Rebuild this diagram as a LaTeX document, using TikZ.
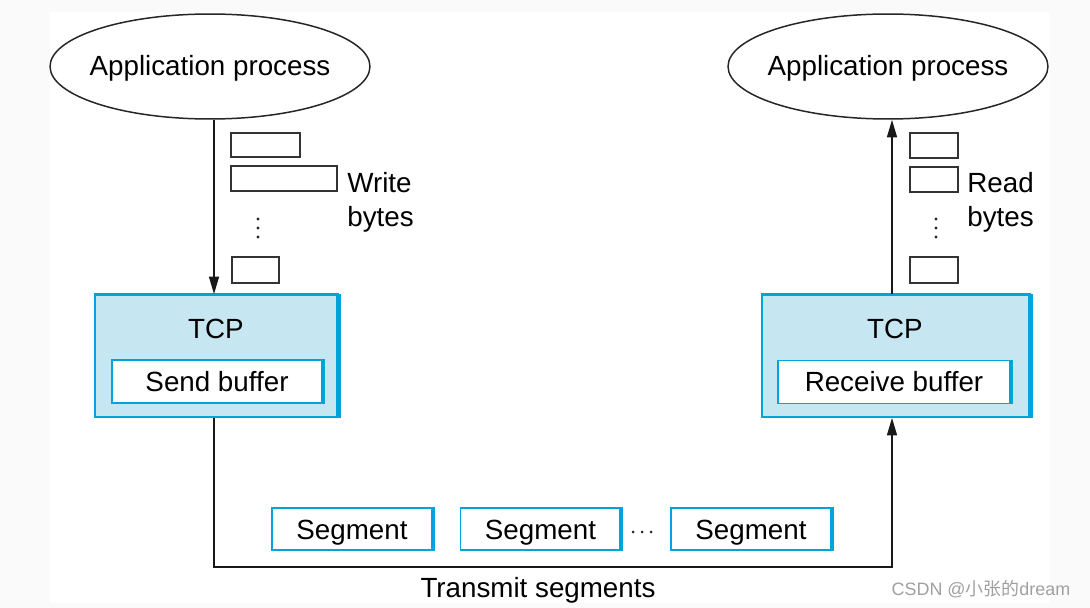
\documentclass[tikz,border=0pt]{standalone}
\usepackage{fontspec}
\setmainfont{Liberation Sans}
\newfontfamily\cjkfont{Noto Sans CJK SC}
\usetikzlibrary{shapes.geometric,arrows.meta}
\definecolor{tcpblue}{RGB}{0,163,218}
\definecolor{tcpfill}{RGB}{198,230,241}
\definecolor{bggray}{RGB}{250,250,250}
\definecolor{wmgray}{RGB}{160,160,160}
\newcommand{\atbase}[2]{\raisebox{-#1}[0pt][0pt]{#2}}
\begin{document}
\begin{tikzpicture}[x=0.02cm,y=-0.02cm,
  every node/.style={font=\fontsize{15.8}{19}\selectfont},
  app/.style={ellipse, draw=black!85, line width=0.85pt, minimum width=6.4cm, minimum height=2.1cm, inner sep=0pt},
  tcpbox/.style={draw=tcpblue, fill=tcpfill, line width=0.9pt, minimum height=2.44cm, inner sep=0pt},
  bufbox/.style={draw=tcpblue, fill=white, line width=1pt, minimum height=0.86cm, inner sep=0pt},
  segbox/.style={draw=tcpblue, fill=white, line width=1.1pt, minimum width=3.2cm, minimum height=0.84cm, inner sep=0pt},
  bytebox/.style={draw=black!80, line width=0.8pt, inner sep=0pt},
  thickedge/.style={draw=tcpblue, line width=2.6pt},
  topedge/.style={draw=tcpblue, line width=1.8pt},
  conn/.style={draw=black!90, line width=1.1pt},
  arr/.style={conn, -{Triangle[length=10pt,width=5.6pt]}},
  lbl/.style={anchor=base west, inner sep=0pt},
  dotmark/.style={fill=black!85},
]
\fill[bggray] (0,0) rectangle (1090,608);
\fill[white] (50,12) rectangle (1050,603);
\useasboundingbox (0,0) rectangle (1090,608);

% ellipses
\node[app] (appL) at (210,66.5) {\makebox[0pt]{\atbase{5.4pt}{Application process}}};
\node[app] (appR) at (888,66.5) {\makebox[0pt]{\atbase{5.4pt}{Application process}}};

% TCP boxes
\node[tcpbox, minimum width=4.86cm] (tcpL) at (216.5,356) {};
\draw[topedge] (tcpL.north west) -- (tcpL.north east);
\draw[thickedge] (tcpL.north east) -- (tcpL.south east);
\node (tcpLt) at (216,329) {TCP};
\node[bufbox, minimum width=4.2cm] (sendbuf) at (217,381.5) {Send buffer};
\draw[thickedge] (sendbuf.north east) -- (sendbuf.south east);

\node[tcpbox, minimum width=5.36cm] (tcpR) at (896,356) {};
\draw[topedge] (tcpR.north west) -- (tcpR.north east);
\draw[thickedge] (tcpR.north east) -- (tcpR.south east);
\node (tcpRt) at (895,329) {TCP};
\node[bufbox, minimum width=4.64cm] (recvbuf) at (894,382) {Receive buffer};
\draw[thickedge] (recvbuf.north east) -- (recvbuf.south east);

% byte boxes left
\node[bytebox, minimum width=1.38cm, minimum height=0.48cm] (bl1) at (265.5,145) {};
\node[bytebox, minimum width=2.12cm, minimum height=0.5cm] (bl2) at (284,178.5) {};
\node[bytebox, minimum width=0.94cm, minimum height=0.52cm] (bl3) at (255.5,270) {};
\foreach \yy in {219,228,237} \fill[dotmark] (258,\yy) circle (1.7);
\node[lbl] (writeL) at (347,193) {Write};
\node[lbl] (bytesL) at (347,227) {bytes};

% byte boxes right
\node[bytebox, minimum width=0.96cm, minimum height=0.5cm] (br1) at (934,145.5) {};
\node[bytebox, minimum width=0.96cm, minimum height=0.5cm] (br2) at (934,179.5) {};
\node[bytebox, minimum width=0.96cm, minimum height=0.52cm] (br3) at (934,270) {};
\foreach \yy in {219,228,237} \fill[dotmark] (936,\yy) circle (1.7);
\node[lbl] (readR) at (967,193) {Read};
\node[lbl] (bytesR) at (967,227) {bytes};

% connectors
\coordinate (lx) at (214,0);
\coordinate (rx) at (892,0);
\coordinate (bot) at (0,567);
\draw[arr] (lx |- appL.south) -- (lx |- tcpL.north);
\draw[arr] (rx |- tcpR.north) -- (rx |- appR.south);
\draw[arr] (lx |- tcpL.south) -- (lx |- bot) -- (rx |- bot) -- (rx |- tcpR.south);

% segments
\node[segbox] (seg1) at (352,529) {\atbase{6.2pt}{Segment}};
\draw[thickedge, line width=2.3pt] (seg1.north east) -- (seg1.south east);
\node[segbox] (seg2) at (540.5,529) {\atbase{6.2pt}{Segment}};
\draw[thickedge, line width=2.3pt] (seg2.north east) -- (seg2.south east);
\node[segbox] (seg3) at (751,529) {\atbase{6.2pt}{Segment}};
\draw[thickedge, line width=2.3pt] (seg3.north east) -- (seg3.south east);
\foreach \xx in {633,642,651} \fill[dotmark] (\xx,532) circle (1.5);

\node[anchor=base, inner sep=0pt] (transmit) at (538,597) {Transmit segments};

% watermark
\node[text=wmgray, font=\fontsize{10.2}{12}\selectfont] (wm) at (981,589) {CSDN @{\cjkfont 小张的}dream};
\end{tikzpicture}
\end{document}
